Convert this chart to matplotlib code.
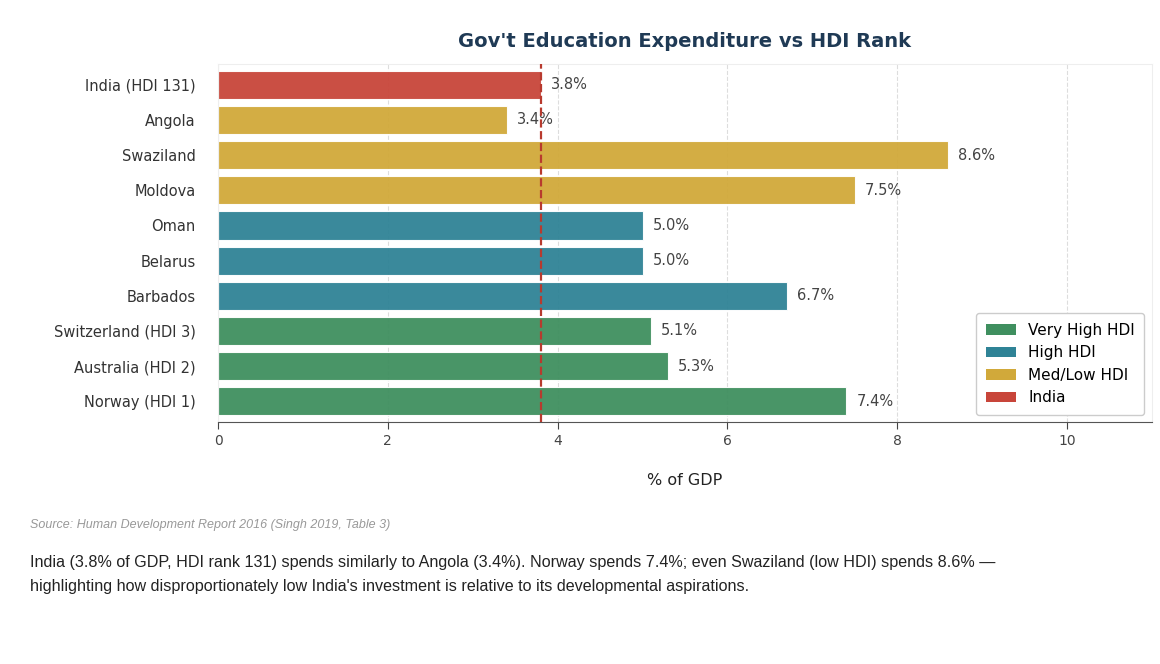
import matplotlib
matplotlib.use("Agg")
import matplotlib.pyplot as plt
from matplotlib.patches import Patch

countries = ["India (HDI 131)", "Angola", "Swaziland", "Moldova", "Oman", "Belarus",
             "Barbados", "Switzerland (HDI 3)", "Australia (HDI 2)", "Norway (HDI 1)"]
values = [3.8, 3.4, 8.6, 7.5, 5.0, 5.0, 6.7, 5.1, 5.3, 7.4]
groups = ["India", "Med/Low HDI", "Med/Low HDI", "Med/Low HDI", "High HDI", "High HDI",
          "High HDI", "Very High HDI", "Very High HDI", "Very High HDI"]
group_colors = {"Very High HDI": "#3f8f5f", "High HDI": "#2f8396",
                "Med/Low HDI": "#d1a93a", "India": "#c8453a"}
legend_order = ["Very High HDI", "High HDI", "Med/Low HDI", "India"]
india_value = 3.8

plt.rcParams['font.family'] = ['DejaVu Sans']
fig = plt.figure(figsize=(11.6, 6.64), dpi=100)
ax = fig.add_axes([0.188, 0.364, 0.805, 0.54])
ypos = list(range(len(countries)))[::-1]
ax.barh(ypos, values, height=0.8, color=[group_colors[g] for g in groups],
        alpha=0.95, edgecolor="white", linewidth=0.8, zorder=2)
for y, v in zip(ypos, values):
    ax.text(v + 0.12, y, f"{v:.1f}%", va="center", ha="left", fontsize=10.5, color="#444444", zorder=3)
ax.axvline(india_value, color="#b83a2e", linestyle="--", linewidth=1.6, zorder=4)
ax.set_yticks(ypos)
ax.set_yticklabels(countries, fontsize=10.5, color="#333333")
ax.set_xlim(0, 11)
ax.set_ylim(-0.6, 9.6)
ax.set_xticks([0, 2, 4, 6, 8, 10])
ax.tick_params(axis="x", labelsize=10, colors="#444444", length=5)
ax.tick_params(axis="y", length=0, pad=16)
ax.grid(axis="x", color="#dddddd", linestyle="--", linewidth=0.8, zorder=0)
for s in ["top", "right", "left"]:
    ax.spines[s].set_color("#eeeeee")
ax.spines["bottom"].set_color("#555555")
ax.set_xlabel("% of GDP", fontsize=11.5, color="#222222", labelpad=18)
ax.set_title("Gov't Education Expenditure vs HDI Rank", fontsize=14, fontweight="bold",
             color="#1f3a55", pad=12)
handles = [Patch(facecolor=group_colors[g], label=g) for g in legend_order]
ax.legend(handles=handles, loc="lower right", fontsize=11, frameon=True, framealpha=1,
          edgecolor="#cccccc", borderpad=0.6)

fig.text(0.026, 0.205, "Source: Human Development Report 2016 (Singh 2019, Table 3)",
         fontsize=9, style="italic", color="#999999", family="Liberation Sans")
fig.text(0.026, 0.146, "India (3.8% of GDP, HDI rank 131) spends similarly to Angola (3.4%). Norway spends 7.4%; even Swaziland (low HDI) spends 8.6% \u2014",
         fontsize=11.6, color="#222222", family="Liberation Sans")
fig.text(0.026, 0.11, "highlighting how disproportionately low India's investment is relative to its developmental aspirations.",
         fontsize=11.6, color="#222222", family="Liberation Sans")
fig.savefig("out.png", dpi=100, facecolor="white")
